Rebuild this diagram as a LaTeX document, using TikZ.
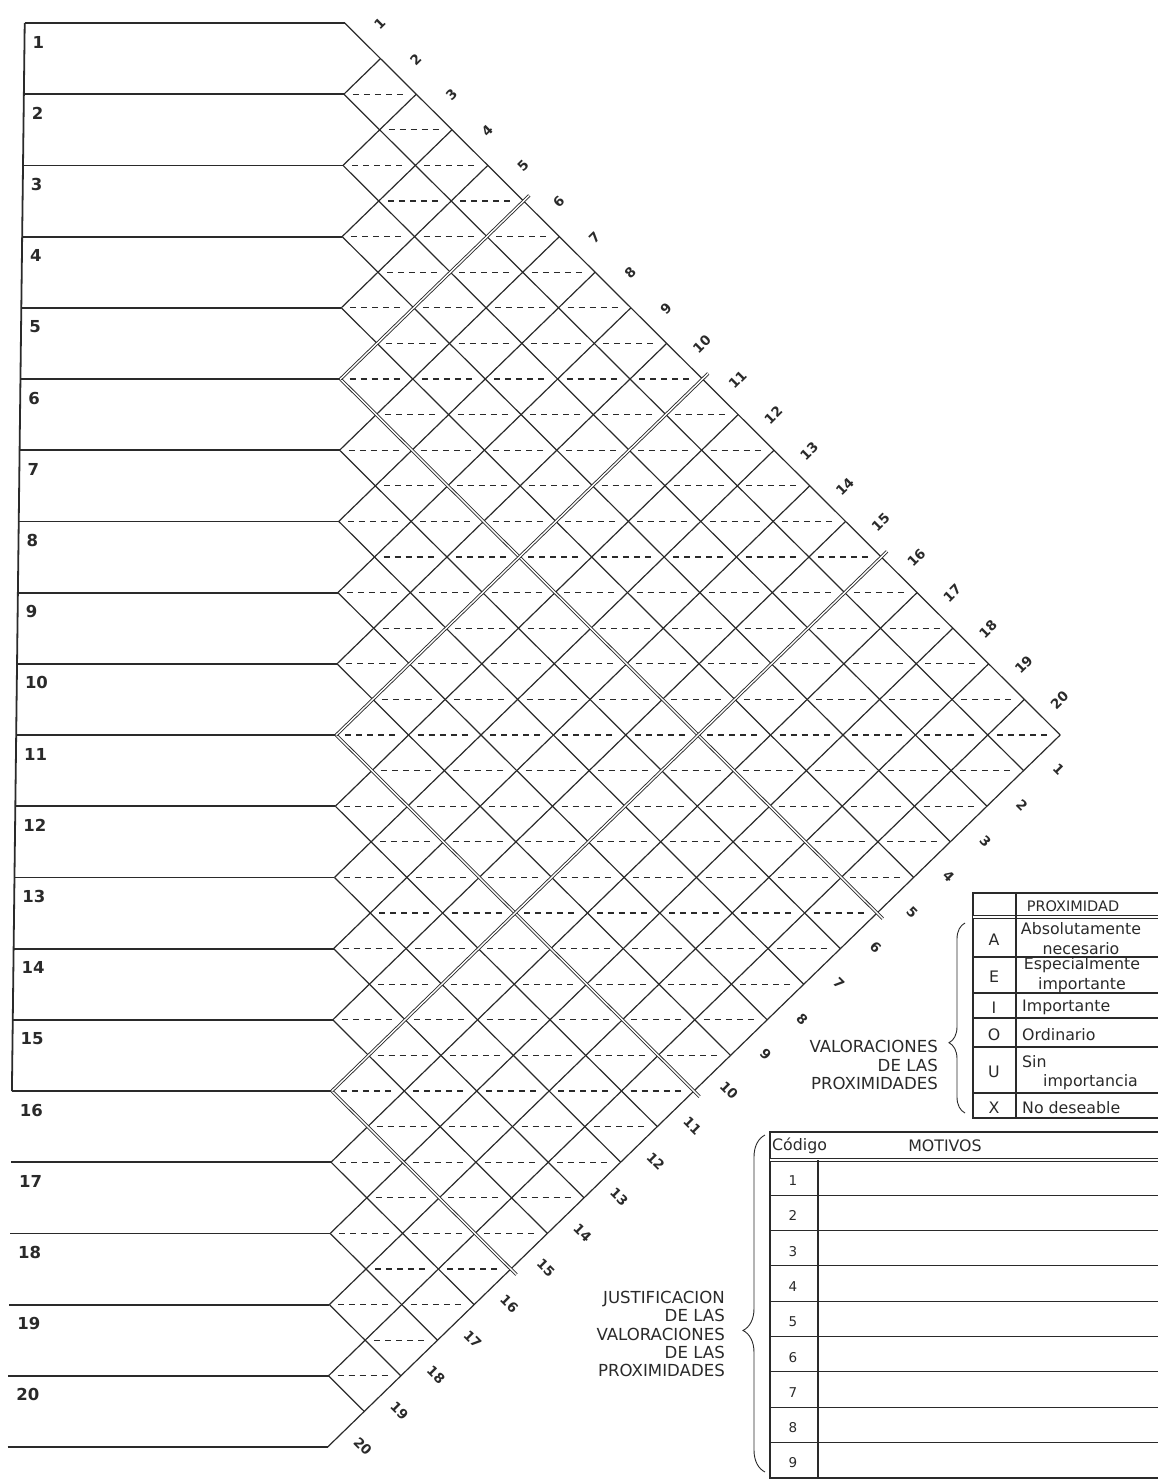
\documentclass[tikz,border=0pt]{standalone}
\usepackage{fontspec}
\setmainfont{DejaVu Sans}
\usetikzlibrary{decorations.pathreplacing}
\definecolor{ink}{HTML}{2A2A2A}

% chart origin and half-cell sizes, in pixels
\newcommand{\chartx}{345}
\newcommand{\charty}{23}
\newcommand{\cellw}{36.2}
\newcommand{\cellh}{35.6}

\begin{document}
\begin{tikzpicture}[
  x=1pt, y=-1pt,
  every node/.style={text=ink, inner sep=0pt},
  rowline/.style={draw=ink, line width=1.8pt},
  gridline/.style={draw=ink, line width=1.2pt},
  sepline/.style={draw=ink, line width=0.9pt, double=white, double distance=1.4pt, shorten >=-8pt},
  midline/.style={draw=ink, line width=1.3pt, dash pattern=on 6pt off 5pt},
  rowlabel/.style={anchor=west, font=\fontsize{16.5}{18}\selectfont\bfseries},
  toplabel/.style={rotate=45, font=\fontsize{13.5}{15}\selectfont\bfseries},
  botlabel/.style={rotate=-45, font=\fontsize{13.5}{15}\selectfont\bfseries},
  tabline/.style={draw=ink, line width=1.1pt},
  headline/.style={draw=ink, line width=0.9pt, double=white, double distance=1.4pt},
  tabtext/.style={font=\fontsize{15.8}{20}\selectfont},
  tabcode/.style={font=\fontsize{13.5}{16}\selectfont},
  caption/.style={align=right, anchor=east, font=\fontsize{16.6}{18.3}\selectfont},
  lbrace/.style={draw=ink, line width=0.9pt, decorate}
]
\useasboundingbox (0,0) rectangle (1157,1481);

% relationship chart (slightly sheared like the scan)
\begin{scope}[xslant=0.012]
  % row boxes
  \draw[rowline] (25,\charty) -- (25,{\charty+30*\cellh});
  \foreach \k in {0,...,20}
    \draw[rowline] (25,{\charty+2*\k*\cellh}) -- ({\chartx},{\charty+2*\k*\cellh});
  \foreach \k in {5,10,15}
    \draw[rowline, line width=2.6pt] (25,{\charty+2*\k*\cellh}) -- ({\chartx},{\charty+2*\k*\cellh});
  \foreach \i in {1,...,20}
    \node[rowlabel] (r\i) at (33,{\charty+(2*\i-2)*\cellh+19}) {\i};

  % diamond grid
  \foreach \k in {0,...,19}
    \draw[gridline] ({\chartx},{\charty+2*\k*\cellh}) -- ({\chartx+(20-\k)*\cellw},{\charty+(20+\k)*\cellh});
  \foreach \k in {1,...,20}
    \draw[gridline] ({\chartx},{\charty+2*\k*\cellh}) -- ({\chartx+\k*\cellw},{\charty+\k*\cellh});

  % heavy lines every five rows
  \foreach \k in {5,10,15} {
    \draw[sepline] ({\chartx},{\charty+2*\k*\cellh}) -- ({\chartx+(20-\k)*\cellw},{\charty+(20+\k)*\cellh});
    \draw[sepline] ({\chartx},{\charty+2*\k*\cellh}) -- ({\chartx+\k*\cellw},{\charty+\k*\cellh});
  }

  % dashed split in every cell
  \foreach \i in {1,...,19} {
    \pgfmathtruncatemacro{\jfirst}{\i+1}
    \foreach \j in {\jfirst,...,20}
      \draw[midline] ({\chartx+(\j-\i-0.75)*\cellw},{\charty+(\i+\j-1)*\cellh})
        -- ({\chartx+(\j-\i+0.75)*\cellw},{\charty+(\i+\j-1)*\cellh});
  }

  % numbers along the two outer edges
  \foreach \i in {1,...,20} {
    \node[toplabel] (t\i) at ({\chartx+(\i-0.5)*\cellw+17},{\charty+(\i-0.5)*\cellh-17}) {\i};
    \node[botlabel] (b\i) at ({\chartx+(20.5-\i)*\cellw+17},{\charty+(19.5+\i)*\cellh+17}) {\i};
  }
\end{scope}

% proximity table
\draw[tabline] (973,893) rectangle (1170,1118);
\draw[headline] (973,917) -- (1170,917);
\foreach \y in {957,993,1018,1047,1093}
  \draw[tabline] (973,\y) -- (1170,\y);
\draw[tabline] (1016,893) -- (1016,1118);
\node[tabtext, font=\fontsize{14.5}{16}\selectfont] (prox) at (1073,906) {PROXIMIDAD};
\node[tabtext] (ca) at (994,940) {A};
\node[tabtext] (ce) at (994,977) {E};
\node[tabtext] (ci) at (994,1008) {I};
\node[tabtext] (co) at (994,1035) {O};
\node[tabtext] (cu) at (994,1072) {U};
\node[tabtext] (cx) at (994,1108) {X};
\node[tabtext, align=center] (da) at (1081,939) {Absolutamente\\necesario};
\node[tabtext, align=center] (de) at (1082,975) {Especialmente\\importante};
\node[tabtext, anchor=west] (di) at (1022,1007) {Importante};
\node[tabtext, anchor=west] (do) at (1022,1035) {Ordinario};
\node[tabtext, anchor=west] (du) at (1022,1062) {Sin};
\node[tabtext, anchor=west] (du2) at (1043,1082) {importancia};
\node[tabtext, anchor=west] (dx) at (1022,1108) {No deseable};
\draw[lbrace, decoration={brace, amplitude=16pt, aspect=0.37}] (965,1113) -- (965,923);
\node[caption] (valor) at (938,1065) {VALORACIONES\\DE LAS\\PROXIMIDADES};

% reasons table
\draw[tabline] (770,1132) rectangle (1170,1478);
\draw[headline] (770,1160) -- (1170,1160);
\foreach \k in {1,...,8}
  \draw[tabline] (770,{1160+\k*35.3}) -- (1170,{1160+\k*35.3});
\draw[tabline] (818,1160) -- (818,1478);
\node[tabtext, anchor=west] (cod) at (772,1146) {Código};
\node[tabtext] (mot) at (945,1146) {MOTIVOS};
\foreach \k in {1,...,9}
  \node[tabcode] (m\k) at (793,{1160+(\k-0.5)*35.3+3}) {\k};
\draw[lbrace, decoration={brace, amplitude=22pt, aspect=0.42}] (765,1472) -- (765,1135);
\node[caption] (justif) at (725,1334) {JUSTIFICACION\\DE LAS\\VALORACIONES\\DE LAS\\PROXIMIDADES};
\end{tikzpicture}
\end{document}
